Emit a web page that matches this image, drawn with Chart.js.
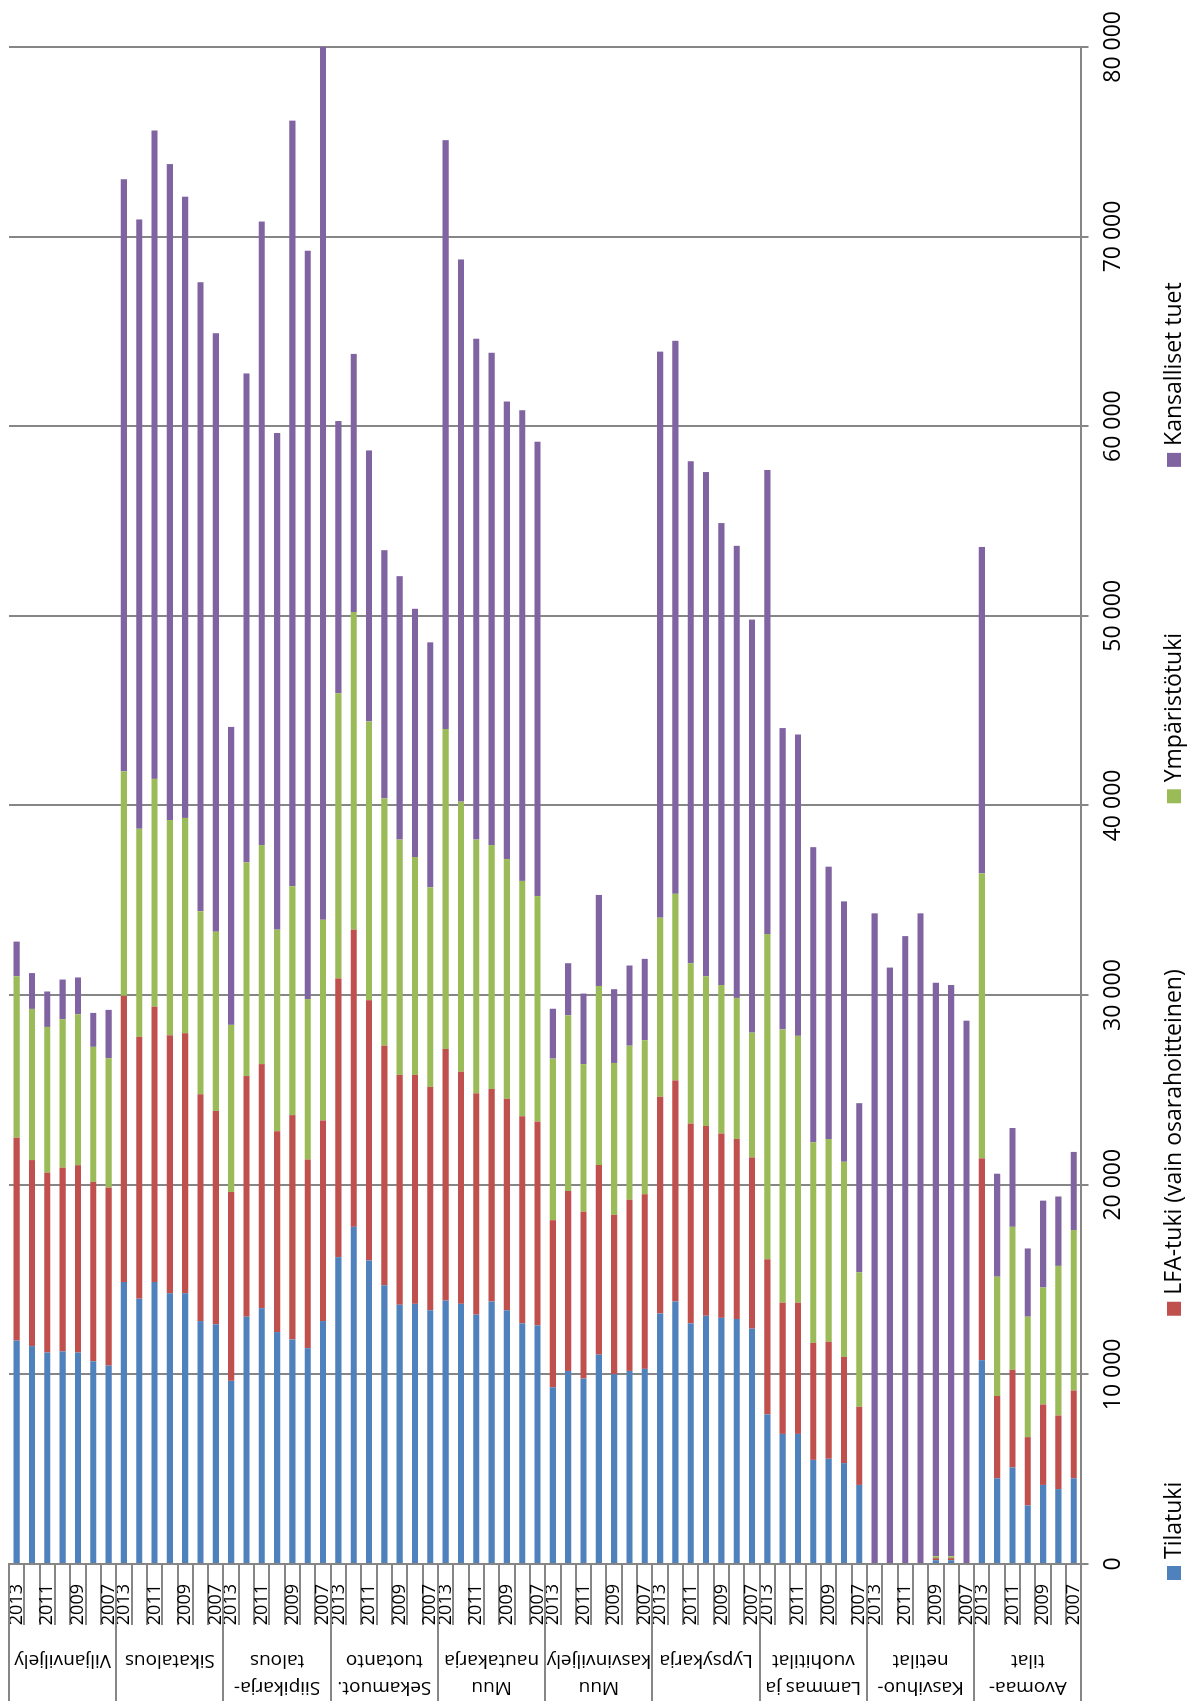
<!DOCTYPE html>
<html lang="fi">
<head>
<meta charset="utf-8">
<title>Tuet tuotantosuunnittain 2007–2013</title>
<script src="https://cdn.jsdelivr.net/npm/chart.js"></script>
<style>
  html, body { margin: 0; padding: 0; background: #fff; overflow: hidden; }
  /* the chart is drawn as a horizontal bar chart and turned a quarter turn */
  #wrap {
    position: absolute; left: 0; top: 0;
    width: 1701px; height: 1189px;
    transform-origin: 0 0;
    transform: translate(0, 1701px) rotate(-90deg);
  }
</style>
</head>
<body>
<div id="wrap"><canvas id="chart" width="1701" height="1189"></canvas></div>
<script>
const groups = [
  ["Viljanviljely"],
  ["Sikatalous"],
  ["Siipikarja-", "talous"],
  ["Sekamuot.", "tuotanto"],
  ["Muu", "nautakarja"],
  ["Muu", "kasvinviljely"],
  ["Lypsykarja"],
  ["Lammas ja", "vuohitilat"],
  ["Kasvihuo-", "netilat"],
  ["Avomaa-", "tilat"],
];
const years = ["2013", "2012", "2011", "2010", "2009", "2008", "2007"];

// one row of 7 values (2013 -> 2007) per group
const tilatuki = [
  11780, 11490, 11150, 11210, 11150, 10690, 10460,
  14870, 13990, 14870, 14280, 14280, 12810, 12640,
  9660, 13040, 13490, 12230, 11840, 11380, 12810,
  16180, 17780, 16010, 14700, 13670, 13720, 13380,
  13890, 13720, 13150, 13840, 13380, 12690, 12580,
  9320, 10180, 9780, 11040, 10010, 10180, 10290,
  13210, 13840, 12690, 13090, 12980, 12920, 12410,
  7890, 6860, 6860, 5490, 5550, 5320, 4170,
  0, 0, 0, 0, 200, 200, 0,
  10750, 4520, 5090, 3090, 4170, 3950, 4520,
];
const lfaTuki = [
  10700, 9810, 9490, 9690, 9880, 9460, 9390,
  15090, 13810, 14520, 13600, 13710, 11960, 11250,
  9960, 12690, 12870, 10590, 11830, 9950, 10580,
  14700, 15670, 13720, 12630, 12120, 12070, 11780,
  13270, 12240, 11670, 11210, 11150, 10920, 10750,
  8810, 9490, 8800, 10000, 8400, 9030, 9210,
  11430, 11660, 10530, 10010, 9720, 9490, 9030,
  8180, 6920, 6920, 6170, 6170, 5600, 4120,
  0, 0, 0, 0, 110, 110, 0,
  10640, 4340, 5150, 3600, 4240, 3880, 4630,
];
const ymparistotuki = [
  8510, 7970, 7680, 7830, 7960, 7120, 6820,
  11840, 10970, 12010, 11350, 11350, 9650, 9450,
  8810, 11270, 11550, 10630, 12070, 8460, 10580,
  15040, 16750, 14700, 13040, 12410, 11490, 10520,
  16870, 14240, 13380, 12860, 12640, 12410, 11890,
  8520, 9260, 7780, 9440, 8010, 8120, 8120,
  9440, 9840, 8460, 7890, 7830, 7440, 6580,
  17150, 14410, 14070, 10580, 10690, 10290, 7090,
  0, 0, 0, 0, 100, 100, 0,
  15030, 6290, 7540, 6350, 6170, 7890, 8460,
];
const kansallisetTuet = [
  1830, 1890, 1870, 2090, 1940, 1790, 2550,
  31220, 32130, 34190, 34590, 32760, 33170, 31560,
  15710, 25780, 32880, 26190, 40370, 39460, 46030,
  14350, 13610, 14290, 13090, 13890, 13090, 12920,
  31050, 28590, 26410, 25960, 24130, 24820, 23960,
  2630, 2750, 3720, 4800, 3890, 4230, 4290,
  29850, 29160, 26470, 26590, 24360, 23840, 21780,
  24470, 15890, 15890, 15560, 14360, 13730, 8920,
  34310, 31450, 33110, 34310, 30240, 30120, 28650,
  17210, 5430, 5210, 3600, 4580, 3660, 4120,
];
const seriesNames = ["Tilatuki", "LFA-tuki (vain osarahoitteinen)", "Ympäristötuki", "Kansalliset tuet"];
const seriesColors = ["#4f81bd", "#c0504d", "#9bbb59", "#8064a2"];

const labels = [];
groups.forEach(() => years.forEach(y => labels.push(y)));

const gridColor = "#868686";
const font = "Open Sans";

function spaced(v) {
  return String(v).replace(/\B(?=(\d{3})+(?!\d))/g, " ");
}

// group labels, long group separators and the legend
const labelTable = {
  id: "labelTable",
  afterDraw(chart) {
    const ctx = chart.ctx;
    const y = chart.scales.y;
    const axisX = chart.chartArea.left;
    const step = y.getPixelForValue(1) - y.getPixelForValue(0);
    ctx.save();
    ctx.strokeStyle = gridColor;
    ctx.lineWidth = 2;
    for (let g = 0; g <= groups.length; g++) {
      const py = Math.round(y.getPixelForValue(g * years.length) - step / 2);
      ctx.beginPath();
      ctx.moveTo(0, py);
      ctx.lineTo(axisX, py);
      ctx.stroke();
    }

    ctx.fillStyle = "#000";
    ctx.font = `19px "${font}"`;
    ctx.textAlign = "center";
    ctx.textBaseline = "middle";
    groups.forEach((lines, g) => {
      const cy = (y.getPixelForValue(g * years.length) + y.getPixelForValue(g * years.length + years.length - 1)) / 2;
      lines.forEach((t, j) => {
        const x = 41 - (lines.length - 1 - j) * 27;
        ctx.save();
        ctx.translate(x, cy);
        ctx.rotate(-Math.PI / 2);
        ctx.fillText(t, 0, 0);
        ctx.restore();
      });
    });

    // legend
    ctx.font = `23px "${font}"`;
    ctx.textAlign = "left";
    let lx = 121;
    const ly = 1174;
    seriesNames.forEach((name, i) => {
      ctx.fillStyle = seriesColors[i];
      ctx.fillRect(lx, ly - 7, 14, 14);
      ctx.fillStyle = "#000";
      ctx.fillText(name, lx + 21, ly);
      lx += 21 + ctx.measureText(name).width + 166;
    });
    ctx.restore();
  }
};

const datasets = [tilatuki, lfaTuki, ymparistotuki, kansallisetTuet].map((d, i) => ({
  label: seriesNames[i],
  data: d,
  backgroundColor: seriesColors[i],
  borderWidth: 0,
  barPercentage: 0.4,
  categoryPercentage: 1.0,
}));

new Chart(document.getElementById("chart"), {
  type: "bar",
  data: { labels: labels, datasets: datasets },
  plugins: [labelTable],
  options: {
    indexAxis: "y",
    responsive: false,
    animation: false,
    devicePixelRatio: 1,
    layout: { padding: { left: 75, top: 9, right: 46, bottom: 51 } },
    plugins: {
      legend: { display: false },
      tooltip: { enabled: false },
    },
    scales: {
      x: {
        stacked: true,
        min: 0,
        max: 80000,
        ticks: {
          stepSize: 10000,
          color: "#000",
          padding: 11,
          font: { family: font, size: 23 },
          callback: v => spaced(v),
        },
        grid: { color: gridColor, lineWidth: 2, tickLength: 7 },
        border: { color: gridColor, width: 2 },
      },
      y: {
        stacked: true,
        afterFit: s => { s.width = 62; },
        ticks: {
          autoSkip: false,
          color: "#000",
          padding: -41,
          font: { family: font, size: 18 },
          callback: (v, i) => ((i % years.length) % 2 === 0 ? labels[i] : ""),
        },
        grid: { offset: true, drawOnChartArea: false, color: gridColor, lineWidth: 2, tickLength: 61 },
        border: { color: gridColor, width: 2 },
      },
    },
  },
});
</script>
</body>
</html>
